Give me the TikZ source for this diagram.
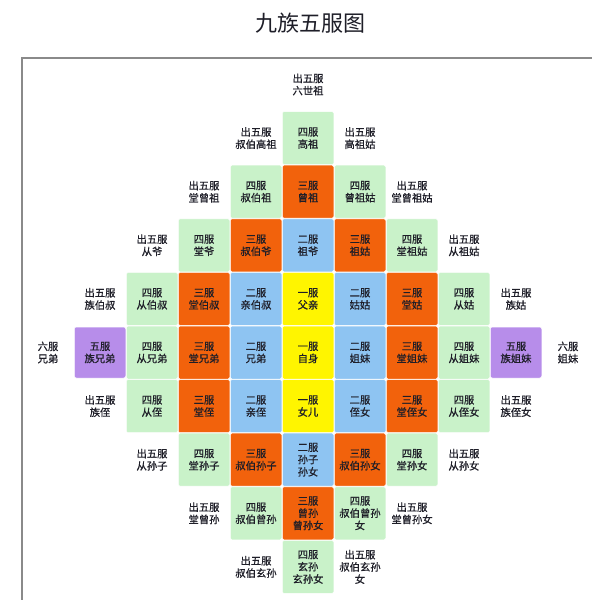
\documentclass[tikz,border=0pt]{standalone}
\usepackage{fontspec}
\newfontfamily\cjk{Noto Sans CJK SC}
\newfontfamily\cjkb[FakeBold=0.7]{Noto Sans CJK SC}
\definecolor{cgreen}{HTML}{C9F2C9}
\definecolor{corange}{HTML}{F2620C}
\definecolor{cblue}{HTML}{8EC4F2}
\definecolor{cyellow}{HTML}{FFF500}
\definecolor{cpurple}{HTML}{B78DEA}
\definecolor{ctext}{HTML}{1E1E28}
\definecolor{cframe}{HTML}{8A8A8A}
\tikzset{
  cellbox/.style={rectangle, rounded corners=1.5pt, draw=white, line width=0.5pt,
    minimum width=51.5pt, minimum height=53pt, inner sep=0pt, align=center,
    text=ctext, font=\cjkb\fontsize{10.3}{12.3}\selectfont},
  plain/.style={inner sep=0pt, align=center, text=ctext, font=\cjkb\fontsize{10.3}{12.3}\selectfont},
}
% col c, row r -> centre
\newcommand\cx[1]{\fpeval{308+52*(#1)}}
\newcommand\cy[1]{\fpeval{84.5+53.6*(#1)}}
\newcommand\mycell[5]{\node[cellbox, fill=#4] (#1) at (\cx{#2},\cy{#3}) {#5};}
\newcommand\mytext[4]{\node[plain] (#1) at (\cx{#2},\cy{#3}) {#4};}
\begin{document}
\begin{tikzpicture}[x=1pt,y=-1pt]
\useasboundingbox (0,0) rectangle (592,600);
\fill[white] (0,0) rectangle (592,600);
\node[inner sep=0pt, font=\cjk\fontsize{22}{22}\selectfont, text=ctext] (title) at (310,23) {九族五服图};
\draw[cframe, line width=1.2pt] (22,600) -- (22,58) -- (592,58);
% row 0
\mytext{r0c0}{0}{0}{出五服\\六世祖}
% row 1
\mycell{r1c0}{0}{1}{cgreen}{四服\\高祖}
\mytext{r1l1}{-1}{1}{出五服\\叔伯高祖}
\mytext{r1r1}{1}{1}{出五服\\高祖姑}
% row 2
\mycell{r2c0}{0}{2}{corange}{三服\\曾祖}
\mycell{r2l1}{-1}{2}{cgreen}{四服\\叔伯祖}
\mycell{r2r1}{1}{2}{cgreen}{四服\\曾祖姑}
\mytext{r2l2}{-2}{2}{出五服\\堂曾祖}
\mytext{r2r2}{2}{2}{出五服\\堂曾祖姑}
% row 3
\mycell{r3c0}{0}{3}{cblue}{二服\\祖爷}
\mycell{r3l1}{-1}{3}{corange}{三服\\叔伯爷}
\mycell{r3r1}{1}{3}{corange}{三服\\祖姑}
\mycell{r3l2}{-2}{3}{cgreen}{四服\\堂爷}
\mycell{r3r2}{2}{3}{cgreen}{四服\\堂祖姑}
\mytext{r3l3}{-3}{3}{出五服\\从爷}
\mytext{r3r3}{3}{3}{出五服\\从祖姑}
% row 4
\mycell{r4c0}{0}{4}{cyellow}{一服\\父亲}
\mycell{r4l1}{-1}{4}{cblue}{二服\\亲伯叔}
\mycell{r4r1}{1}{4}{cblue}{二服\\姑姑}
\mycell{r4l2}{-2}{4}{corange}{三服\\堂伯叔}
\mycell{r4r2}{2}{4}{corange}{三服\\堂姑}
\mycell{r4l3}{-3}{4}{cgreen}{四服\\从伯叔}
\mycell{r4r3}{3}{4}{cgreen}{四服\\从姑}
\mytext{r4l4}{-4}{4}{出五服\\族伯叔}
\mytext{r4r4}{4}{4}{出五服\\族姑}
% row 5
\mycell{r5c0}{0}{5}{cyellow}{一服\\自身}
\mycell{r5l1}{-1}{5}{cblue}{二服\\兄弟}
\mycell{r5r1}{1}{5}{cblue}{二服\\姐妹}
\mycell{r5l2}{-2}{5}{corange}{三服\\堂兄弟}
\mycell{r5r2}{2}{5}{corange}{三服\\堂姐妹}
\mycell{r5l3}{-3}{5}{cgreen}{四服\\从兄弟}
\mycell{r5r3}{3}{5}{cgreen}{四服\\从姐妹}
\node[cellbox, fill=cpurple, minimum height=51pt, rounded corners=2pt] (r5l4) at (\cx{-4},\cy{5}) {五服\\族兄弟};
\node[cellbox, fill=cpurple, minimum height=51pt, rounded corners=2pt] (r5r4) at (\cx{4},\cy{5}) {五服\\族姐妹};
\mytext{r5l5}{-5}{5}{六服\\兄弟}
\mytext{r5r5}{5}{5}{六服\\姐妹}
% row 6
\mycell{r6c0}{0}{6}{cyellow}{一服\\女儿}
\mycell{r6l1}{-1}{6}{cblue}{二服\\亲侄}
\mycell{r6r1}{1}{6}{cblue}{二服\\侄女}
\mycell{r6l2}{-2}{6}{corange}{三服\\堂侄}
\mycell{r6r2}{2}{6}{corange}{三服\\堂侄女}
\mycell{r6l3}{-3}{6}{cgreen}{四服\\从侄}
\mycell{r6r3}{3}{6}{cgreen}{四服\\从侄女}
\mytext{r6l4}{-4}{6}{出五服\\族侄}
\mytext{r6r4}{4}{6}{出五服\\族侄女}
% row 7
\mycell{r7c0}{0}{7}{cblue}{二服\\孙子\\孙女}
\mycell{r7l1}{-1}{7}{corange}{三服\\叔伯孙子}
\mycell{r7r1}{1}{7}{corange}{三服\\叔伯孙女}
\mycell{r7l2}{-2}{7}{cgreen}{四服\\堂孙子}
\mycell{r7r2}{2}{7}{cgreen}{四服\\堂孙女}
\mytext{r7l3}{-3}{7}{出五服\\从孙子}
\mytext{r7r3}{3}{7}{出五服\\从孙女}
% row 8
\mycell{r8c0}{0}{8}{corange}{三服\\曾孙\\曾孙女}
\mycell{r8l1}{-1}{8}{cgreen}{四服\\叔伯曾孙}
\mycell{r8r1}{1}{8}{cgreen}{四服\\叔伯曾孙\\女}
\mytext{r8l2}{-2}{8}{出五服\\堂曾孙}
\mytext{r8r2}{2}{8}{出五服\\堂曾孙女}
% row 9
\mycell{r9c0}{0}{9}{cgreen}{四服\\玄孙\\玄孙女}
\mytext{r9l1}{-1}{9}{出五服\\叔伯玄孙}
\mytext{r9r1}{1}{9}{出五服\\叔伯玄孙\\女}
\end{tikzpicture}
\end{document}
